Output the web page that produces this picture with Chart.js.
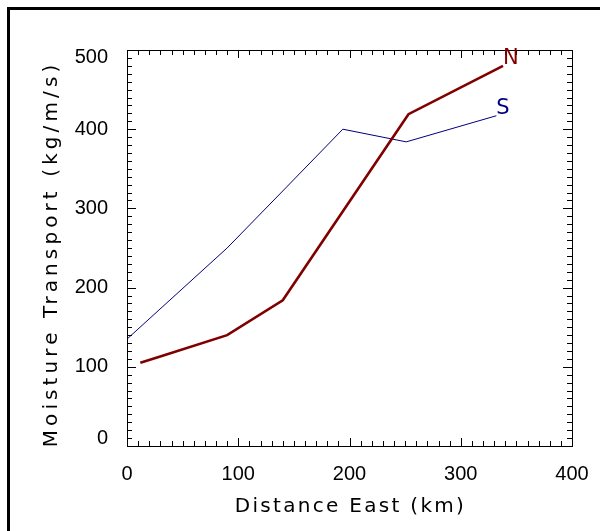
<!DOCTYPE html>
<html>
<head>
<meta charset="utf-8">
<script src="https://cdn.jsdelivr.net/npm/chart.js@4"></script>
<style>
  html, body { margin: 0; padding: 0; background: #fff; }
  #wrap { width: 600px; height: 531px; }
</style>
</head>
<body>
<div id="wrap"><canvas id="moistureChart" width="600" height="531"></canvas></div>
<script>
// distance east (km) and moisture transport (kg/m/s) for the two sections
const nKm = [12, 32, 90, 140, 253, 338];
const nVal = [105, 114, 140, 184, 419, 480];
const sKm = [0, 90, 140, 194, 251, 332];
const sVal = [135, 250, 322, 400, 384, 417];

const xTicks = [0, 100, 200, 300, 400];
const yTicks = [0, 100, 200, 300, 400, 500];

const seriesNames = ['N', 'S'];
const seriesColors = ['#800000', '#000080'];
// where the curve names sit (km, kg/m/s)
const nameKm = [345, 338];
const nameVal = [489, 426];

const xTitle = 'Distance East (km)';
const yTitle = 'Moisture Transport (kg/m/s)';

const toPoints = (xs, ys) => xs.map((x, i) => ({ x: x, y: ys[i] }));

const tickFont = { family: "'Liberation Sans'", size: 20 };
const titleFont = "20px 'DejaVu Sans'";

// IDL style box: inward ticks on all four sides, minor every 10
const idlBox = {
    id: 'idlBox',
    beforeDraw(chart) {
        const ctx = chart.ctx;
        ctx.save();
        ctx.fillStyle = '#fff';
        ctx.fillRect(0, 0, chart.width, chart.height);
        ctx.fillStyle = '#000';
        ctx.fillRect(7, 7, chart.width - 7, 3);
        ctx.fillRect(7, 7, 3, chart.height - 7);
        ctx.restore();
    },
    afterDraw(chart) {
        const ctx = chart.ctx;
        const a = chart.chartArea;
        const xs = chart.scales.x, ys = chart.scales.y;
        ctx.save();
        ctx.strokeStyle = '#000';
        ctx.lineWidth = 1;
        ctx.strokeRect(Math.round(a.left) + 0.5, Math.round(a.top) + 0.5,
            Math.round(a.right - a.left), Math.round(a.bottom - a.top));
        ctx.beginPath();
        for (let v = 0; v <= 400; v += 10) {
            const px = Math.round(xs.getPixelForValue(v)) + 0.5;
            const len = v % 100 === 0 ? 8 : 5;
            ctx.moveTo(px, a.bottom); ctx.lineTo(px, a.bottom - len);
            ctx.moveTo(px, a.top); ctx.lineTo(px, a.top + len);
        }
        for (let v = 0; v <= 500; v += 10) {
            const py = Math.round(ys.getPixelForValue(v)) + 0.5;
            const len = v % 100 === 0 ? 9 : 5;
            ctx.moveTo(a.left, py); ctx.lineTo(a.left + len, py);
            ctx.moveTo(a.right, py); ctx.lineTo(a.right - len, py);
        }
        ctx.stroke();

        // curve names
        ctx.font = "21px 'DejaVu Sans'";
        ctx.textAlign = 'center';
        ctx.textBaseline = 'middle';
        seriesNames.forEach((name, i) => {
            ctx.fillStyle = seriesColors[i];
            ctx.fillText(name, xs.getPixelForValue(nameKm[i]), ys.getPixelForValue(nameVal[i]));
        });

        // axis titles
        ctx.fillStyle = '#000';
        ctx.font = titleFont;
        ctx.letterSpacing = '2.3px';
        ctx.textBaseline = 'alphabetic';
        ctx.fillText(xTitle, (a.left + a.right) / 2 + 1, 512);
        ctx.translate(57, (a.top + a.bottom) / 2 + 6);
        ctx.rotate(-Math.PI / 2);
        ctx.letterSpacing = '4.1px';
        ctx.fillText(yTitle, 0, 0);
        ctx.restore();
    }
};

const config = {
    type: 'line',
    data: {
        datasets: [{
            label: seriesNames[0],
            data: toPoints(nKm, nVal),
            borderColor: seriesColors[0],
            borderWidth: 2.6,
            pointRadius: 0,
            tension: 0,
            fill: false
        }, {
            label: seriesNames[1],
            data: toPoints(sKm, sVal),
            borderColor: seriesColors[1],
            borderWidth: 1,
            pointRadius: 0,
            tension: 0,
            fill: false
        }]
    },
    options: {
        responsive: false,
        animation: false,
        layout: { padding: { left: 0, right: 28, top: 50, bottom: 0 } },
        scales: {
            x: {
                type: 'linear',
                min: 0,
                max: 400,
                afterBuildTicks: (s) => { s.ticks = xTicks.map(v => ({ value: v })); },
                afterFit: (s) => { s.height = 85; },
                grid: { display: false },
                border: { display: false },
                ticks: { color: '#000', font: tickFont, padding: 8, maxRotation: 0 }
            },
            y: {
                min: 0,
                max: 500,
                afterBuildTicks: (s) => { s.ticks = yTicks.map(v => ({ value: v })); },
                afterFit: (s) => { s.width = 127; },
                grid: { display: false },
                border: { display: false },
                ticks: {
                    color: '#000',
                    font: { family: tickFont.family, size: tickFont.size, lineHeight: '15px' },
                    padding: 11,
                    // end labels are kept inside the box, like IDL does
                    callback: (v) => v === 500 ? ['', '500'] : (v === 0 ? ['0', ''] : String(v))
                }
            }
        },
        plugins: {
            legend: { display: false },
            tooltip: { enabled: false }
        }
    },
    plugins: [idlBox]
};

const myChart = new Chart(document.getElementById('moistureChart'), config);
</script>
</body>
</html>
